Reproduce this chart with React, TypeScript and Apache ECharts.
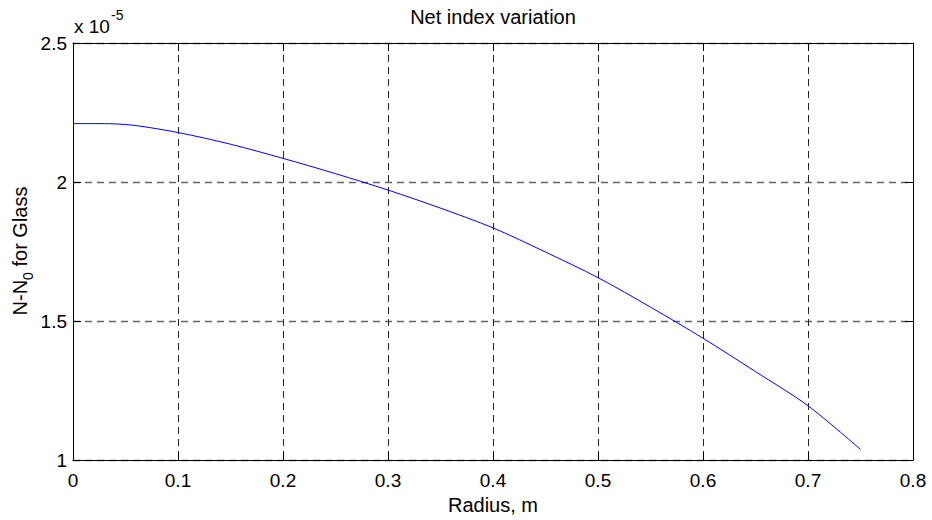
import React, { useEffect, useRef } from "react";
import * as echarts from "echarts";

// Radius (m)
const radius = [0, 0.02, 0.04, 0.06, 0.1, 0.15, 0.2, 0.25, 0.3, 0.35, 0.4, 0.45, 0.5, 0.55, 0.6, 0.65, 0.7, 0.75];
// N - N0 for Glass, in units of 1e-5
const netIndex = [2.21, 2.21, 2.209, 2.203, 2.178, 2.136, 2.085, 2.03, 1.971, 1.906, 1.835, 1.748, 1.656, 1.55, 1.438, 1.318, 1.195, 1.038];

const xTicks = ["0", "0.1", "0.2", "0.3", "0.4", "0.5", "0.6", "0.7", "0.8"];
const yTicks = ["1", "1.5", "2", "2.5"];

const titleText = "Net index variation";
const xLabel = "Radius, m";
const FONT = "'Liberation Sans', Arial, sans-serif";

export default function App() {
  const ref = useRef<HTMLDivElement>(null);
  useEffect(() => {
    if (!ref.current) return;
    const chart = echarts.init(ref.current, null, { renderer: "svg" });
    const L = 73, T = 43, R = 913, B = 464;
    const tickLen = 8;
    const lblStyle = { color: "#000", fontFamily: FONT, fontSize: 19 };
    chart.setOption({
      animation: false,
      backgroundColor: "#fff",
      grid: { left: L, top: T, width: R - L, height: B - T, containLabel: false },
      xAxis: [
        {
          type: "value", min: 0, max: 0.8, interval: 0.1, position: "bottom",
          axisLine: { show: true, onZero: false, lineStyle: { color: "#000", width: 1 } },
          axisTick: { show: true, inside: true, length: tickLen, lineStyle: { color: "#000" } },
          axisLabel: { ...lblStyle, margin: 11, formatter: (v: number) => xTicks[Math.round(v * 10)] ?? "" },
          splitLine: { show: true, lineStyle: { color: "#222", type: [7, 5], width: 1 } },
          name: xLabel, nameLocation: "middle", nameGap: 35,
          nameTextStyle: { ...lblStyle, fontSize: 20 },
        },
        {
          type: "value", min: 0, max: 0.8, interval: 0.1, position: "top",
          axisLine: { show: true, onZero: false, lineStyle: { color: "#000", width: 1 } },
          axisTick: { show: true, inside: true, length: tickLen, lineStyle: { color: "#000" } },
          axisLabel: { show: false }, splitLine: { show: false },
        },
      ],
      yAxis: [
        {
          type: "value", min: 1, max: 2.5, interval: 0.5, position: "left",
          axisLine: { show: true, onZero: false, lineStyle: { color: "#000", width: 1 } },
          axisTick: { show: true, inside: true, length: tickLen, lineStyle: { color: "#000" } },
          axisLabel: { ...lblStyle, margin: 6, formatter: (v: number) => yTicks[Math.round((v - 1) * 2)] ?? "" },
          splitLine: { show: true, lineStyle: { color: "#666", type: [7, 5], width: 1.3 } },
        },
        {
          type: "value", min: 1, max: 2.5, interval: 0.5, position: "right",
          axisLine: { show: true, onZero: false, lineStyle: { color: "#000", width: 1 } },
          axisTick: { show: true, inside: true, length: tickLen, lineStyle: { color: "#000" } },
          axisLabel: { show: false }, splitLine: { show: false },
        },
      ],
      graphic: [
        {
          type: "text", x: (L + R) / 2, y: 17,
          style: { text: titleText, fill: "#000", font: `20px ${FONT}`, align: "center", verticalAlign: "middle" },
        },
        {
          type: "text", x: 74, y: 26,
          style: { text: "x 10", fill: "#000", font: `19px ${FONT}`, align: "left", verticalAlign: "middle" },
        },
        {
          type: "text", x: 111, y: 15,
          style: { text: "-5", fill: "#000", font: `14px ${FONT}`, align: "left", verticalAlign: "middle" },
        },
        {
          type: "text", x: 21, y: 251, rotation: Math.PI / 2,
          style: {
            text: "{m|N-N}{s|0}{m| for Glass}",
            fill: "#000", align: "center", verticalAlign: "middle",
            rich: {
              m: { fontFamily: FONT, fontSize: 20, lineHeight: 22, verticalAlign: "top", fill: "#000" },
              s: { fontFamily: FONT, fontSize: 14, lineHeight: 14, padding: [11, 0, 0, 0], verticalAlign: "top", fill: "#000" },
            },
          },
        },
      ],
      series: [
        {
          type: "line", xAxisIndex: 0, yAxisIndex: 0,
          data: radius.map((r, i) => [r, netIndex[i]]),
          showSymbol: false, symbol: "none", smooth: 0.3,
          lineStyle: { color: "#0000ff", width: 1 },
        },
      ],
    });
    return () => chart.dispose();
  }, []);
  return <div ref={ref} style={{ width: 932, height: 520, position: "absolute", left: 0, top: 0 }} />;
}
